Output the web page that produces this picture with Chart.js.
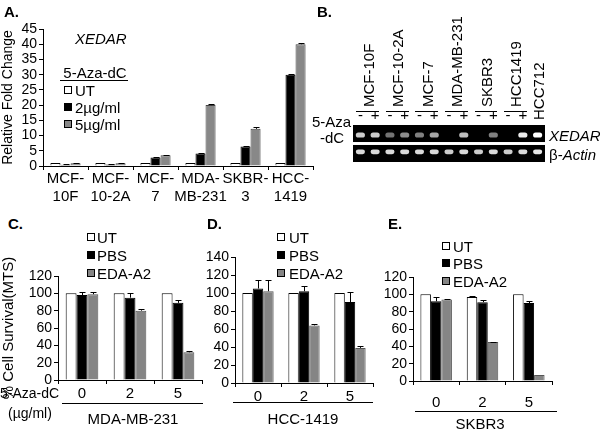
<!DOCTYPE html>
<html>
<head>
<meta charset="utf-8">
<script src="https://cdn.jsdelivr.net/npm/chart.js@4/dist/chart.umd.min.js"></script>
<style>
  body { margin: 0; background: #fff; }
  #fig { position: relative; width: 600px; height: 430px; overflow: hidden;
         font-family: "Liberation Sans", Arial, sans-serif; color: #000; }
  #fig canvas { position: absolute; }
  .t { position: absolute; white-space: nowrap; line-height: 1; font-size: 15px; }
  .b { font-weight: bold; }
  .sq { position: absolute; width: 6px; height: 6px; border: 1px solid #000; }
  .ln { position: absolute; height: 0; border-top: 1px solid #000; }
</style>
</head>
<body>
<div id="fig">
  <canvas id="chartA" width="322" height="192" style="left:0;top:18px"></canvas>
  <canvas id="chartB" width="215" height="56" style="left:340px;top:108px"></canvas>
  <canvas id="chartC" width="207" height="175" style="left:0;top:245px"></canvas>
  <canvas id="chartD" width="180" height="175" style="left:200px;top:245px"></canvas>
  <canvas id="chartE" width="180" height="175" style="left:380px;top:245px"></canvas>
</div>
<script>
"use strict";
// panel A - qRT-PCR fold change
var foldCats = [["MCF-", "10F"], ["MCF-", "10-2A"], ["MCF-", "7"], ["MDA-", "MB-231"], ["SKBR-", "3"], ["HCC-", "1419"]];
var foldUT = [1, 1, 1, 1, 1, 1];
var fold2ug = [0.4, 0.5, 2.8, 4.1, 6.4, 30];
var fold5ug = [0.9, 0.9, 3.5, 20, 12.2, 40];
var foldErr2ug = [0.1, 0.1, 0.2, 0.2, 0.3, 0.3];
var foldErr5ug = [0.1, 0.1, 0.2, 0.3, 0.5, 0.3];

// panel B - gel lanes
var gelSigns = ["-", "+", "-", "+", "-", "+", "-", "+", "-", "+", "-", "+", ""];
var gelLines = ["MCF-10F", "MCF-10-2A", "MCF-7", "MDA-MB-231", "SKBR3", "HCC1419"];
var xedarBand = [0.8, 0.8, 0.45, 0.55, 0.5, 0.65, 0, 0.75, 0, 0.5, 0, 0.92, 1];
var actinBand = [0.85, 0.85, 0.85, 0.85, 0.85, 0.85, 0.8, 0.85, 0.8, 0.85, 0.8, 0.85, 0.9];

// panels C-E - cell survival
var doses = ["0", "2", "5"];
var mdaUT = [100, 100, 100];
var mdaPBS = [98, 95, 89];
var mdaEDA = [99, 80, 32];
var mdaErrPBS = [3, 5, 3];
var mdaErrEDA = [2, 1.5, 2];
var hccUT = [100, 100, 100];
var hccPBS = [105, 102, 90];
var hccEDA = [102, 64, 39];
var hccErrPBS = [9, 6, 11];
var hccErrEDA = [12, 1.5, 2];
var skbrUT = [100, 97, 100];
var skbrPBS = [92, 91, 90];
var skbrEDA = [94, 45, 7];
var skbrErrUT = [0, 1.5, 0];
var skbrErrPBS = [5, 2.5, 2.5];
var skbrErrEDA = [1, 0.5, 0];

Chart.defaults.font.family = '"Liberation Sans", Arial, sans-serif';
Chart.defaults.color = "#000";

var fig = document.getElementById("fig");

var errorBars = {
  id: "errorBars",
  afterDatasetsDraw: function (chart) {
    var ctx = chart.ctx;
    var yScale = chart.scales.y;
    chart.data.datasets.forEach(function (ds, i) {
      var errs = ds.errors;
      if (!errs) return;
      chart.getDatasetMeta(i).data.forEach(function (bar, j) {
        var err = errs[j];
        if (!err) return;
        var top = Math.round(yScale.getPixelForValue(ds.data[j] + err)) + 0.5;
        var cx = Math.round(bar.x) + 0.5;
        ctx.save();
        ctx.strokeStyle = "#000";
        ctx.lineWidth = 1;
        ctx.beginPath();
        ctx.moveTo(cx, bar.y);
        ctx.lineTo(cx, top);
        ctx.moveTo(cx - 3, top);
        ctx.lineTo(cx + 3, top);
        ctx.stroke();
        ctx.restore();
      });
    });
  }
};

var gelBackground = {
  id: "gelBackground",
  beforeDatasetsDraw: function (chart) {
    var a = chart.chartArea, y = chart.scales.y, ctx = chart.ctx;
    ctx.save();
    ctx.fillStyle = "#000";
    ctx.fillRect(a.left, y.getPixelForValue(2), a.right - a.left, y.getPixelForValue(1.08) - y.getPixelForValue(2));
    ctx.fillRect(a.left, y.getPixelForValue(0.92), a.right - a.left, y.getPixelForValue(0) - y.getPixelForValue(0.92));
    ctx.restore();
  }
};

function axisStyle(extra) {
  var o = {
    grid: { display: true, drawOnChartArea: false, color: "#000", tickLength: 4 },
    border: { color: "#000" },
    ticks: { color: "#000", font: { size: 14 }, padding: 2 }
  };
  return Object.assign(o, extra);
}

function addText(html, x, y, align, cls) {
  var d = document.createElement("div");
  d.className = "t " + (cls || "");
  d.innerHTML = html;
  d.style.left = x + "px";
  d.style.top = y + "px";
  var tx = align === "center" ? "-50%" : align === "right" ? "-100%" : "0";
  d.style.transform = "translate(" + tx + ",-50%)";
  fig.appendChild(d);
  return d;
}
function addSquare(x, y, color) {
  var d = document.createElement("div");
  d.className = "sq";
  d.style.left = x + "px";
  d.style.top = (y - 4) + "px";
  d.style.background = color;
  fig.appendChild(d);
}
function addLine(x1, x2, y) {
  var d = document.createElement("div");
  d.className = "ln";
  d.style.left = x1 + "px";
  d.style.width = (x2 - x1) + "px";
  d.style.top = y + "px";
  fig.appendChild(d);
}

// ---- panel A
new Chart(document.getElementById("chartA"), {
  type: "bar",
  data: {
    labels: foldCats,
    datasets: [
      { label: "UT", data: foldUT, backgroundColor: "#fff", borderColor: "#000", borderWidth: 1 },
      { label: "2µg/ml", data: fold2ug, errors: foldErr2ug, backgroundColor: "#000", borderColor: "#000", borderWidth: 1 },
      { label: "5µg/ml", data: fold5ug, errors: foldErr5ug, backgroundColor: "#888", borderColor: "#444", borderWidth: 1 }
    ]
  },
  options: {
    responsive: false,
    animation: false,
    layout: { padding: { top: 11, right: 9, left: 0, bottom: 0 } },
    plugins: { legend: { display: false }, tooltip: { enabled: false } },
    datasets: { bar: { categoryPercentage: 0.67, barPercentage: 1 } },
    scales: {
      x: axisStyle({
        ticks: { color: "#000", font: { size: 15 }, padding: 0, maxRotation: 0, autoSkip: false },
        afterFit: function (s) { s.height = 44; }
      }),
      y: axisStyle({
        min: 0, max: 45,
        ticks: { color: "#000", font: { size: 14 }, padding: 2, stepSize: 5, autoSkip: false },
        title: { display: true, text: "Relative Fold Change", font: { size: 14 }, color: "#000", padding: 0 },
        afterFit: function (s) { s.width = 43; }
      })
    }
  },
  plugins: [errorBars]
});

addText("A.", 4, 11, null, "b");
addText("<i>XEDAR</i>", 75, 38, null);
addText("5-Aza-dC", 95, 72, "center");
addLine(60, 128, 80);
addSquare(64, 90, "#fff");
addSquare(64, 107, "#000");
addSquare(64, 124, "#888");
addText("UT", 75, 90);
addText("2µg/ml", 75, 107);
addText("5µg/ml", 75, 124);

// ---- panel B
var gelChart = new Chart(document.getElementById("chartB"), {
  type: "bar",
  data: {
    labels: gelSigns,
    datasets: [
      {
        label: "XEDAR",
        data: xedarBand.map(function () { return [1.32, 1.6]; }),
        backgroundColor: xedarBand.map(function (v) { return "rgba(255,255,255," + v + ")"; }),
        grouped: false
      },
      {
        label: "β-Actin",
        data: actinBand.map(function () { return [0.42, 0.68]; }),
        backgroundColor: actinBand.map(function (v) { return "rgba(255,255,255," + v + ")"; }),
        grouped: false
      }
    ]
  },
  options: {
    responsive: false,
    animation: false,
    layout: { padding: { top: 3, right: 10, left: 13, bottom: 2 } },
    plugins: { legend: { display: false }, tooltip: { enabled: false } },
    datasets: { bar: { categoryPercentage: 1, barPercentage: 0.62, borderRadius: 3, borderSkipped: false } },
    scales: {
      x: {
        position: "top",
        grid: { display: false, drawTicks: false },
        border: { display: false },
        ticks: { color: "#000", font: { size: 15 }, padding: 0, maxRotation: 0, autoSkip: false },
        afterFit: function (s) { s.height = 14; }
      },
      y: { display: false, min: 0, max: 2 }
    }
  },
  plugins: [gelBackground]
});

addText("B.", 317, 11, null, "b");
var gx = gelChart.scales.x;
var gelLeft = 340;
gelLines.forEach(function (name, p) {
  var x0 = gx.getPixelForValue(2 * p) + gelLeft;
  var x1 = gx.getPixelForValue(2 * p + 1) + gelLeft;
  var d = addText(name, (x0 + x1) / 2, 107, null);
  d.style.transformOrigin = "0 0";
  d.style.transform = "rotate(-90deg) translateY(-50%)";
  addLine(x0 - 4, x1 + 4, 111);
});
var lastLane = gx.getPixelForValue(12) + gelLeft;
var hd = addText("HCC712", lastLane, 120, null);
hd.style.transformOrigin = "0 0";
hd.style.transform = "rotate(-90deg) translateY(-50%)";
addText("5-Aza", 312, 121);
addText("-dC", 320, 137);
addText("<i>XEDAR</i>", 549, 135);
addText("β-<i>Actin</i>", 549, 154);

// ---- panels C-E
function survivalChart(id, ut, pbs, eda, errUT, errPBS, errEDA, yMax, box) {
  var yOpts = {
    min: 0, max: yMax,
    ticks: { color: "#000", font: { size: 14 }, padding: 2, stepSize: 20, autoSkip: false },
    afterFit: function (s) { s.width = box.yW; }
  };
  if (box.title) {
    yOpts.title = { display: true, text: box.title, font: { size: 15 }, color: "#000", padding: 0 };
  }
  return new Chart(document.getElementById(id), {
    type: "bar",
    data: {
      labels: doses,
      datasets: [
        { label: "UT", data: ut, errors: errUT, backgroundColor: "#fff", borderColor: "#000", borderWidth: 1 },
        { label: "PBS", data: pbs, errors: errPBS, backgroundColor: "#000", borderColor: "#000", borderWidth: 1 },
        { label: "EDA-A2", data: eda, errors: errEDA, backgroundColor: "#858585", borderColor: "#555", borderWidth: 1 }
      ]
    },
    options: {
      responsive: false,
      animation: false,
      layout: { padding: { top: box.top, right: box.right, left: 0, bottom: 0 } },
      plugins: { legend: { display: false }, tooltip: { enabled: false } },
      datasets: { bar: { categoryPercentage: 0.68, barPercentage: 1 } },
      scales: {
        x: axisStyle({
          ticks: { color: "#000", font: { size: 15 }, padding: box.xPad },
          afterFit: function (s) { s.height = box.xH; }
        }),
        y: axisStyle(yOpts)
      }
    },
    plugins: [errorBars]
  });
}

survivalChart("chartC", mdaUT, mdaPBS, mdaEDA, null, mdaErrPBS, mdaErrEDA, 120,
  { top: 31, right: 5, xH: 40, yW: 58, xPad: 1, title: "% Cell Survival(MTS)" });
survivalChart("chartD", hccUT, hccPBS, hccEDA, null, hccErrPBS, hccErrEDA, 140,
  { top: 12, right: 7, xH: 37, yW: 35, xPad: 1 });
survivalChart("chartE", skbrUT, skbrPBS, skbrEDA, skbrErrUT, skbrErrPBS, skbrErrEDA, 120,
  { top: 32, right: 8, xH: 39, yW: 33, xPad: 9 });

function survivalLegend(sx, tx, ys) {
  addSquare(sx, ys[0], "#fff");
  addSquare(sx, ys[1], "#000");
  addSquare(sx, ys[2], "#858585");
  addText("UT", tx, ys[0]);
  addText("PBS", tx, ys[1]);
  addText("EDA-A2", tx, ys[2]);
}

addText("C.", 8, 223, null, "b");
survivalLegend(87, 97, [237, 255, 273]);
var az = addText("5-Aza-dC", 0, 393);
az.style.fontSize = "14px";
var ug = addText("(µg/ml)", 8, 413);
ug.style.fontSize = "14px";
addLine(62, 203, 403);
addText("MDA-MB-231", 133, 418, "center");

addText("D.", 207, 223, null, "b");
survivalLegend(277, 289, [237, 255, 273]);
addLine(233, 373, 402);
addText("HCC-1419", 303, 418, "center");

addText("E.", 388, 223, null, "b");
survivalLegend(442, 453, [246, 263, 281]);
addLine(415, 557, 411);
addText("SKBR3", 480, 423, "center");
</script>
</body>
</html>
